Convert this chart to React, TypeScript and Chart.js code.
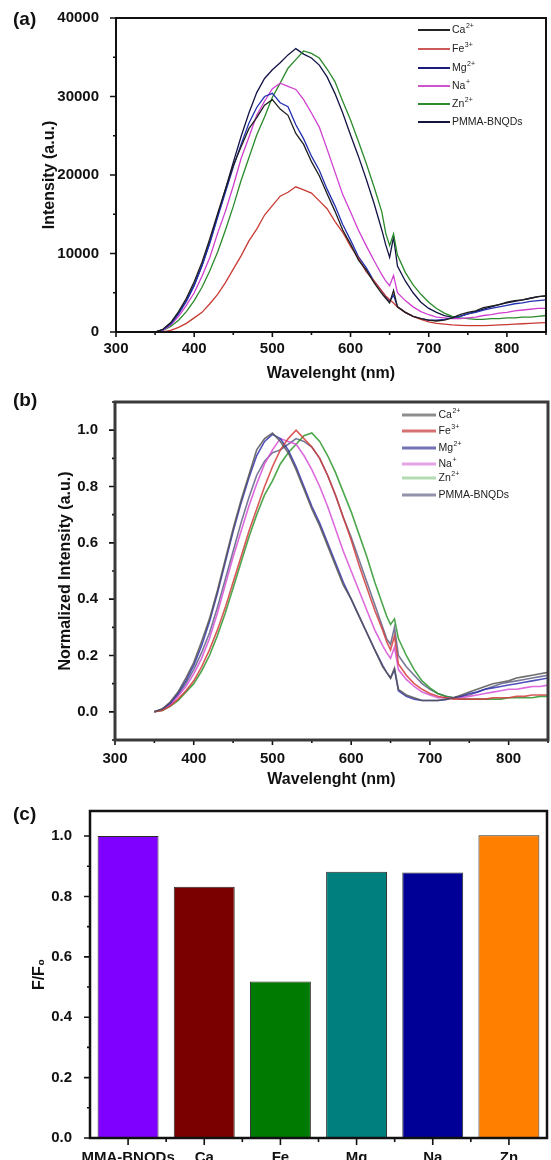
import React, { useEffect, useRef } from "react";
import { Chart, registerables } from "chart.js";

Chart.register(...registerables);

// ---------------- DATA ----------------
const WAVELENGTHS = [
  350, 360, 370, 380, 390, 400, 410, 420, 430, 440,
  450, 460, 470, 480, 490, 500, 510, 520, 530, 540,
  550, 560, 570, 580, 590, 600, 610, 620, 630, 640,
  645, 650, 655,
  660, 670, 680, 690, 700, 710, 720, 730, 740, 750,
  760, 770, 780, 790, 800, 810, 820, 830, 840, 850,
];

const SERIES_NAMES = ["Ca", "Fe", "Mg", "Na", "Zn", "PMMA-BNQDs"];
const SERIES_SUPS = ["2+", "3+", "2+", "+", "2+", ""];

// (a) raw intensity (a.u.)
const A_CA = [
  0, 350, 1200, 2600, 4300, 6400, 8900, 11900, 15100, 18200,
  21200, 23600, 25900, 27300, 28900, 29600, 28400, 27600, 25300, 23900,
  21700, 19900, 17600, 15400, 13000, 11200, 9200, 7900, 6300, 4900,
  4300, 3700, 5300,
  3200, 2500, 2000, 1700, 1500, 1400, 1500, 1800, 2200, 2500,
  2700, 3100, 3300, 3500, 3800, 4000, 4100, 4300, 4500, 4600,
];
const A_FE = [
  0, 0, 200, 600, 1100, 1800, 2500, 3600, 4800, 6300,
  8000, 9700, 11600, 13100, 14900, 16100, 17300, 17800, 18500, 18100,
  17700, 16700, 15700, 14100, 12700, 10900, 9400, 7700, 6500, 5200,
  4600, 4100, 3700,
  3200, 2500, 2000, 1600, 1300, 1100, 1000, 900, 850, 800,
  800, 800, 850, 900, 950, 1000, 1050, 1100, 1150, 1200,
];
const A_MG = [
  0, 300, 1000, 2300, 3900, 5900, 8400, 11300, 14600, 17800,
  21000, 23900, 26600, 28600, 30000, 30400, 29200, 28700, 26400, 24600,
  22400, 20600, 18200, 16100, 13700, 11700, 9600, 8200, 6500, 5200,
  4500, 3900, 4700,
  3200, 2500, 2000, 1700, 1500, 1500, 1600, 1800, 2000, 2300,
  2500, 2800, 3000, 3200, 3400, 3600, 3700, 3900, 4000, 4100,
];
const A_NA = [
  0, 200, 900, 2000, 3400, 5000, 7100, 9500, 12600, 15400,
  18600, 22100, 24800, 27600, 29400, 31000, 31700, 31300, 30900, 29600,
  27900, 26100, 23300, 20400, 17500, 15300, 13000, 11000, 9100, 7300,
  6500, 5900, 7200,
  5000, 4000, 3200, 2600, 2200, 1900, 1800, 1700, 1700, 1800,
  1900, 2100, 2200, 2400, 2500, 2700, 2800, 2900, 3000, 3000,
];
const A_ZN = [
  0, 200, 700, 1500, 2600, 4000, 5700, 7800, 10200, 13000,
  16000, 19300, 22200, 25100, 27400, 29900, 31700, 33600, 34700, 35800,
  35500, 34900, 33500, 31900, 29400, 27000, 24300, 21500, 18500, 15300,
  12600, 11000, 12500,
  9800, 7600, 6000, 4800, 3800, 3000, 2400, 2000, 1800, 1700,
  1600, 1600, 1700, 1700, 1800, 1800, 1900, 1900, 2000, 2100,
];
const A_PMMA = [
  0, 300, 1100, 2400, 4000, 6000, 8500, 11500, 14800, 18200,
  21600, 24900, 27900, 30500, 32300, 33400, 34300, 35300, 36100, 35400,
  34900, 34000, 32500, 30400, 27900, 25100, 22400, 19500, 16400, 13000,
  11100, 9500, 12100,
  8400, 6500, 5000, 3800, 3000, 2500, 2100, 1900, 2000, 2300,
  2600, 2900, 3200, 3500, 3700, 3900, 4100, 4300, 4500, 4600,
];

// (b) normalized intensity
const B_CA = [
  0, 0.01, 0.035, 0.07, 0.12, 0.175, 0.25, 0.33, 0.43, 0.54,
  0.65, 0.75, 0.84, 0.93, 0.97, 0.99, 0.96, 0.92, 0.86, 0.79,
  0.72, 0.66, 0.59, 0.52, 0.45, 0.4, 0.34, 0.28, 0.22, 0.16,
  0.14, 0.12, 0.155,
  0.08, 0.06, 0.05, 0.04, 0.04, 0.04, 0.045, 0.05, 0.06, 0.07,
  0.08, 0.09, 0.1, 0.105, 0.11, 0.12, 0.125, 0.13, 0.135, 0.14,
];
const B_FE = [
  0, 0.005, 0.02, 0.045, 0.075, 0.11, 0.16, 0.22, 0.29, 0.37,
  0.46, 0.55, 0.64, 0.72, 0.8, 0.87, 0.93, 0.97, 1.0, 0.97,
  0.94, 0.9, 0.84, 0.77, 0.69, 0.61, 0.52, 0.44, 0.36, 0.29,
  0.25, 0.22, 0.27,
  0.17, 0.13, 0.1, 0.08, 0.065, 0.055, 0.05, 0.045, 0.045, 0.045,
  0.045, 0.045, 0.05, 0.05, 0.05, 0.055, 0.055, 0.06, 0.06, 0.06,
];
const B_MG = [
  0, 0.01, 0.03, 0.065, 0.11, 0.165, 0.235, 0.32, 0.42, 0.53,
  0.64, 0.74, 0.83, 0.91, 0.96, 0.985, 0.97, 0.93, 0.87, 0.8,
  0.73, 0.67, 0.6, 0.53, 0.46, 0.4, 0.34, 0.28, 0.22, 0.165,
  0.14, 0.12, 0.15,
  0.075, 0.055, 0.045, 0.04, 0.04, 0.04, 0.043, 0.05, 0.055, 0.065,
  0.07, 0.08, 0.085, 0.09, 0.095, 0.1, 0.105, 0.11, 0.115, 0.12,
];
const B_NA = [
  0, 0.008, 0.025, 0.055, 0.09, 0.135, 0.19, 0.26, 0.35, 0.45,
  0.55, 0.64, 0.73, 0.81, 0.88, 0.93, 0.97, 0.96, 0.95, 0.91,
  0.86, 0.8, 0.73, 0.65, 0.57, 0.5, 0.43, 0.36, 0.29, 0.235,
  0.21, 0.19, 0.23,
  0.15, 0.115, 0.09, 0.07, 0.06, 0.05, 0.05, 0.05, 0.05, 0.055,
  0.06, 0.065, 0.07, 0.075, 0.08, 0.08, 0.085, 0.09, 0.09, 0.095,
];
const B_ZN = [
  0, 0.005, 0.02, 0.04, 0.07, 0.1, 0.145, 0.2, 0.27, 0.35,
  0.44, 0.53, 0.62, 0.7, 0.77, 0.82, 0.88, 0.92, 0.95, 0.98,
  0.99, 0.96, 0.91, 0.85, 0.78, 0.71, 0.63, 0.55, 0.46, 0.38,
  0.34, 0.31, 0.33,
  0.26, 0.2, 0.15, 0.11, 0.085, 0.065, 0.055, 0.05, 0.045, 0.045,
  0.045, 0.045, 0.045, 0.045, 0.05, 0.05, 0.05, 0.05, 0.055, 0.055,
];
const B_PMMA = [
  0, 0.008, 0.03, 0.06, 0.1, 0.15, 0.21, 0.28, 0.37, 0.47,
  0.57, 0.67, 0.76, 0.84, 0.89, 0.92, 0.93, 0.95, 0.97, 0.96,
  0.94, 0.9, 0.84, 0.77, 0.69, 0.62, 0.54, 0.46, 0.38, 0.3,
  0.26, 0.24, 0.3,
  0.2, 0.16, 0.13, 0.1, 0.08, 0.065, 0.055, 0.05, 0.055, 0.06,
  0.07, 0.08, 0.09, 0.1, 0.105, 0.11, 0.115, 0.12, 0.125, 0.13,
];

// (c) F/F0
const C_CATEGORIES = ["MMA-BNQDs", "Ca", "Fe", "Mg", "Na", "Zn"];
const C_VALUES = [1.0, 0.832, 0.518, 0.882, 0.879, 1.003];

// ticks
const X_TICKS = [300, 400, 500, 600, 700, 800];
const X_MINOR = [350, 450, 550, 650, 750, 850];
const A_Y_TICKS = [0, 10000, 20000, 30000, 40000];
const A_Y_MINOR = [5000, 15000, 25000, 35000];
const B_Y_TICKS = [0, 0.2, 0.4, 0.6, 0.8, 1.0];
const B_Y_MINOR = [-0.1, 0.1, 0.3, 0.5, 0.7, 0.9, 1.1];
const C_Y_TICKS = [0, 0.2, 0.4, 0.6, 0.8, 1.0];
const C_Y_MINOR = [0.1, 0.3, 0.5, 0.7, 0.9];

// ---------------- STYLES ----------------
const FONT = "'Liberation Sans', Arial, Helvetica, sans-serif";
const A_COLORS = ["#1e1e1e", "#c83a34", "#2330b0", "#cf3fcf", "#2a8a2a", "#131345"];
const A_LEGEND_COLORS = ["#222222", "#cc5a5a", "#1c1c7c", "#cc55cc", "#2e8a2e", "#14143c"];
const B_COLORS = [
  "rgba(85,85,85,0.85)",
  "rgba(210,60,60,0.85)",
  "rgba(50,50,175,0.85)",
  "rgba(215,80,215,0.85)",
  "rgba(45,150,45,0.85)",
  "rgba(95,95,135,0.85)",
];
const B_LEGEND_COLORS = ["#8e8e8e", "#d77070", "#7272b2", "#e6a2e6", "#b4dcb4", "#9292aa"];
const C_COLORS = ["#8000ff", "#7a0000", "#007a00", "#007f7f", "#000096", "#ff8000"];

const tickFont = { family: FONT, size: 15, weight: "bold" as const };
const titleFont = { family: FONT, size: 16, weight: "bold" as const };

function xy(values: number[]) {
  return WAVELENGTHS.map((w, i) => ({ x: w, y: values[i] }));
}

type FrameOpts = {
  color: string;
  width: number;
  xMajor: number[];
  xMinor: number[];
  yMajor: number[];
  yMinor: number[];
  category?: boolean;
};

function framePlugin(o: FrameOpts) {
  return {
    id: "frameTicks",
    afterDraw(chart: any) {
      const { ctx, chartArea: a, scales } = chart;
      const xs = scales.x;
      const ys = scales.y;
      ctx.save();
      ctx.strokeStyle = "#111";
      ctx.lineWidth = 1.6;
      ctx.beginPath();
      if (o.category) {
        const n = C_CATEGORIES.length;
        for (let i = 0; i < n; i++) {
          const p = xs.getPixelForValue(i);
          ctx.moveTo(p, a.bottom);
          ctx.lineTo(p, a.bottom + 7);
        }
        for (let i = 0; i < n - 1; i++) {
          const p = (xs.getPixelForValue(i) + xs.getPixelForValue(i + 1)) / 2;
          ctx.moveTo(p, a.bottom);
          ctx.lineTo(p, a.bottom + 4);
        }
      } else {
        for (const v of o.xMajor) {
          const p = xs.getPixelForValue(v);
          ctx.moveTo(p, a.bottom);
          ctx.lineTo(p, a.bottom + 5);
        }
        for (const v of o.xMinor) {
          const p = xs.getPixelForValue(v);
          ctx.moveTo(p, a.bottom);
          ctx.lineTo(p, a.bottom + 3);
        }
      }
      for (const v of o.yMajor) {
        const p = ys.getPixelForValue(v);
        ctx.moveTo(a.left, p);
        ctx.lineTo(a.left - 6, p);
      }
      for (const v of o.yMinor) {
        const p = ys.getPixelForValue(v);
        ctx.moveTo(a.left, p);
        ctx.lineTo(a.left - 3, p);
      }
      ctx.stroke();
      ctx.strokeStyle = o.color;
      ctx.lineWidth = o.width;
      ctx.strokeRect(a.left, a.top, a.right - a.left, a.bottom - a.top);
      ctx.restore();
    },
  };
}

type LegendOpts = {
  colors: string[];
  lineWidth: number;
  x0: number;
  x1: number;
  textX: number;
  ys: number[];
};

function legendPlugin(o: LegendOpts) {
  return {
    id: "customLegend",
    afterDraw(chart: any) {
      const ctx = chart.ctx;
      ctx.save();
      ctx.textBaseline = "middle";
      ctx.textAlign = "left";
      SERIES_NAMES.forEach((name, i) => {
        const y = o.ys[i];
        ctx.strokeStyle = o.colors[i];
        ctx.lineWidth = o.lineWidth;
        ctx.beginPath();
        ctx.moveTo(o.x0, y);
        ctx.lineTo(o.x1, y);
        ctx.stroke();
        ctx.fillStyle = "#222";
        ctx.font = `10.5px ${FONT}`;
        ctx.fillText(name, o.textX, y + 0.5);
        const w = ctx.measureText(name).width;
        if (SERIES_SUPS[i]) {
          ctx.font = `7px ${FONT}`;
          ctx.fillText(SERIES_SUPS[i], o.textX + w + 0.5, y - 3.5);
        }
      });
      ctx.restore();
    },
  };
}

function lineConfig(opts: {
  values: number[][];
  colors: string[];
  lineWidth: number;
  yMin: number;
  yMax: number;
  yTicks: number[];
  yMinor: number[];
  yFmt: (v: number) => string;
  yTitle: string;
  yTitlePad: number;
  padTop: number;
  padRight: number;
  yWidth: number;
  xHeight: number;
  xTickPad: number;
  xTitlePadBottom: number;
  frameColor: string;
  frameWidth: number;
  legend: LegendOpts;
}) {
  return {
    type: "line" as const,
    data: {
      datasets: opts.values.map((v, i) => ({
        label: SERIES_NAMES[i],
        data: xy(v),
        borderColor: opts.colors[i],
        borderWidth: opts.lineWidth,
        pointRadius: 0,
        tension: 0,
        fill: false,
      })),
    },
    options: {
      responsive: false,
      animation: false as const,
      devicePixelRatio: 1,
      layout: { padding: { top: opts.padTop, right: opts.padRight, left: 0, bottom: 0 } },
      plugins: { legend: { display: false }, tooltip: { enabled: false } },
      scales: {
        x: {
          type: "linear" as const,
          min: 300,
          max: 850,
          grid: { display: false },
          border: { display: false },
          afterBuildTicks: (s: any) => {
            s.ticks = X_TICKS.map((v) => ({ value: v }));
          },
          afterFit: (s: any) => {
            s.height = opts.xHeight;
          },
          ticks: {
            font: tickFont,
            color: "#111",
            padding: opts.xTickPad,
            maxRotation: 0,
            autoSkip: false,
            callback: (v: any) => String(v),
          },
          title: {
            display: true,
            text: "Wavelenght (nm)",
            font: titleFont,
            color: "#111",
            padding: { top: 0, bottom: opts.xTitlePadBottom },
          },
        },
        y: {
          type: "linear" as const,
          min: opts.yMin,
          max: opts.yMax,
          grid: { display: false },
          border: { display: false },
          afterBuildTicks: (s: any) => {
            s.ticks = opts.yTicks.map((v) => ({ value: v }));
          },
          afterFit: (s: any) => {
            s.width = opts.yWidth;
          },
          ticks: {
            font: tickFont,
            color: "#111",
            padding: 9,
            autoSkip: false,
            callback: (v: any) => opts.yFmt(Number(v)),
          },
          title: {
            display: true,
            text: opts.yTitle,
            font: titleFont,
            color: "#111",
            padding: { top: opts.yTitlePad, bottom: 0 },
          },
        },
      },
    },
    plugins: [
      framePlugin({
        color: opts.frameColor,
        width: opts.frameWidth,
        xMajor: X_TICKS,
        xMinor: X_MINOR,
        yMajor: opts.yTicks,
        yMinor: opts.yMinor,
      }),
      legendPlugin(opts.legend),
    ],
  };
}

function barConfig() {
  return {
    type: "bar" as const,
    data: {
      labels: C_CATEGORIES,
      datasets: [
        {
          label: "F/F0",
          data: C_VALUES,
          backgroundColor: C_COLORS,
          borderColor: "#2a2a2a",
          borderWidth: 1,
          categoryPercentage: 1,
          barPercentage: 0.8,
        },
      ],
    },
    options: {
      responsive: false,
      animation: false as const,
      devicePixelRatio: 1,
      layout: { padding: { top: 7, right: 4, left: 0, bottom: 0 } },
      plugins: { legend: { display: false }, tooltip: { enabled: false } },
      scales: {
        x: {
          grid: { display: false },
          border: { display: false },
          afterFit: (s: any) => {
            s.height = 22;
          },
          ticks: {
            font: tickFont,
            color: "#111",
            padding: 3,
            maxRotation: 0,
            autoSkip: false,
          },
        },
        y: {
          type: "linear" as const,
          min: 0,
          max: 1.083,
          grid: { display: false },
          border: { display: false },
          afterBuildTicks: (s: any) => {
            s.ticks = C_Y_TICKS.map((v) => ({ value: v }));
          },
          afterFit: (s: any) => {
            s.width = 90;
          },
          ticks: {
            font: tickFont,
            color: "#111",
            padding: 10,
            autoSkip: false,
            callback: (v: any) => Number(v).toFixed(1),
          },
          title: {
            display: true,
            text: "F/F₀",
            font: titleFont,
            color: "#111",
            padding: { top: 30, bottom: 0 },
          },
        },
      },
    },
    plugins: [
      framePlugin({
        color: "#111",
        width: 2.5,
        xMajor: [],
        xMinor: [],
        yMajor: C_Y_TICKS,
        yMinor: C_Y_MINOR,
        category: true,
      }),
    ],
  };
}

function ChartCanvas(props: { make: () => any; top: number; height: number }) {
  const ref = useRef<HTMLCanvasElement>(null);
  useEffect(() => {
    const chart = new Chart(ref.current as HTMLCanvasElement, props.make());
    return () => chart.destroy();
  }, []);
  return (
    <canvas
      ref={ref}
      width={551}
      height={props.height}
      style={{ position: "absolute", left: 0, top: props.top, width: 551, height: props.height }}
    />
  );
}

const panelLabelStyle = (top: number): React.CSSProperties => ({
  position: "absolute",
  left: 13,
  top,
  fontFamily: FONT,
  fontWeight: "bold",
  fontSize: 19,
  lineHeight: "19px",
  color: "#111",
});

export default function App() {
  const makeA = () =>
    lineConfig({
      values: [A_CA, A_FE, A_MG, A_NA, A_ZN, A_PMMA],
      colors: A_COLORS,
      lineWidth: 1.3,
      yMin: 0,
      yMax: 40000,
      yTicks: A_Y_TICKS,
      yMinor: A_Y_MINOR,
      yFmt: (v) => String(v),
      yTitle: "Intensity (a.u.)",
      yTitlePad: 40,
      padTop: 15,
      padRight: 5,
      yWidth: 116,
      xHeight: 52,
      xTickPad: 0,
      xTitlePadBottom: 1,
      frameColor: "#111",
      frameWidth: 2,
      legend: {
        colors: A_LEGEND_COLORS,
        lineWidth: 2,
        x0: 418,
        x1: 450,
        textX: 452,
        ys: [30, 49, 68, 86, 104, 122],
      },
    });
  const makeB = () =>
    lineConfig({
      values: [B_CA, B_FE, B_MG, B_NA, B_ZN, B_PMMA],
      colors: B_COLORS,
      lineWidth: 1.6,
      yMin: -0.1,
      yMax: 1.1,
      yTicks: B_Y_TICKS,
      yMinor: B_Y_MINOR,
      yFmt: (v) => v.toFixed(1),
      yTitle: "Normalized Intensity (a.u.)",
      yTitlePad: 56,
      padTop: 2,
      padRight: 3,
      yWidth: 115,
      xHeight: 52,
      xTickPad: 2,
      xTitlePadBottom: 3,
      frameColor: "#3a3a3a",
      frameWidth: 3,
      legend: {
        colors: B_LEGEND_COLORS,
        lineWidth: 3,
        x0: 402,
        x1: 436,
        textX: 438.5,
        ys: [31, 47, 64, 80, 94, 111],
      },
    });

  return (
    <div
      style={{
        position: "absolute",
        left: 0,
        top: 0,
        width: 551,
        height: 1160,
        background: "#fff",
        overflow: "hidden",
      }}
    >
      <ChartCanvas make={makeA} top={0} height={384} />
      <ChartCanvas make={makeB} top={384} height={408} />
      <ChartCanvas make={barConfig} top={792} height={368} />
      <div style={panelLabelStyle(9)}>(a)</div>
      <div style={panelLabelStyle(390)}>(b)</div>
      <div style={panelLabelStyle(804)}>(c)</div>
    </div>
  );
}
